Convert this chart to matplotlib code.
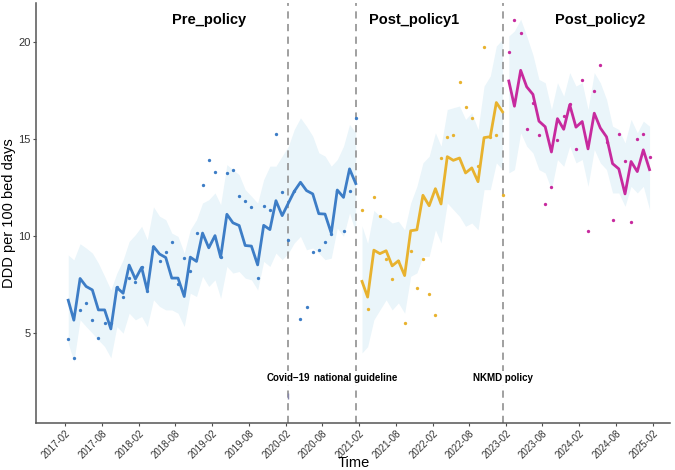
import pandas as pd
import matplotlib
matplotlib.use('Agg')
import matplotlib.pyplot as plt

plt.rcParams['font.family'] = ['Liberation Sans', 'DejaVu Sans']

# monthly values
blue_fit = [6.67, 5.64, 7.79, 7.38, 7.2, 6.17, 6.17, 5.19, 7.32, 7.03, 8.48, 7.76,
            8.36, 7.17, 9.44, 9.05, 8.87, 7.81, 7.81, 6.86, 8.89, 8.67, 10.13, 9.37,
            10.0, 8.88, 11.1, 10.66, 10.52, 9.49, 9.46, 8.49, 10.53, 10.31, 11.8, 11.03,
            11.68, 12.28, 12.75, 12.32, 12.15, 11.13, 11.11, 10.13, 12.35, 11.97, 13.44, 12.68]
blue_obs = [4.67, 3.71, 6.19, 6.53, 5.64, 4.71, 5.49, 5.5, 7.33, 6.83, 7.79, 7.59,
            8.4, 7.17, 9.4, 8.7, 9.13, 9.68, 7.52, 8.82, 8.2, 10.13, 12.61, 13.9,
            13.28, 8.9, 13.23, 13.4, 12.06, 11.8, 11.46, 7.84, 11.51, 11.3, 15.23, 12.26,
            9.77, 12.3, 5.72, 6.32, 9.15, 9.24, 9.65, 10.1, 12.3, 10.25, 12.32, 16.05]
blue_hi = [9.0, 8.75, 9.58, 9.36, 9.1, 8.58, 7.9, 7.2, 8.07, 8.75, 9.7, 10.05,
           10.48, 9.79, 11.48, 11.0, 10.82, 10.13, 9.96, 9.1, 10.3, 10.82, 11.68, 11.85,
           12.2, 11.6, 13.66, 13.4, 13.14, 12.37, 12.03, 11.68, 12.89, 13.58, 13.58, 14.1,
           14.61, 15.47, 16.07, 15.64, 15.13, 14.27, 14.1, 13.58, 13.92, 14.61, 15.73, 15.3]
blue_lo = [4.45, 3.5, 5.66, 5.31, 4.97, 4.62, 4.28, 3.7, 5.31, 4.97, 6.0, 5.66,
           5.83, 5.31, 6.69, 6.35, 6.17, 6.17, 6.0, 5.31, 7.03, 6.86, 7.9, 7.38,
           7.72, 6.77, 8.41, 8.07, 8.15, 7.81, 7.72, 7.2, 8.67, 8.41, 9.1, 8.76,
           9.1, 9.62, 9.96, 9.27, 9.36, 9.1, 8.76, 8.84, 10.39, 9.96, 11.17, 10.13]

yellow_fit = [7.64, 6.83, 9.25, 9.07, 9.22, 8.44, 8.7, 7.94, 10.25, 10.3, 12.08, 11.54,
              12.42, 11.63, 14.07, 13.88, 14.0, 13.23, 13.49, 12.78, 15.05, 15.1, 16.86, 16.38]
yellow_obs = [11.3, 6.24, 11.97, 11.03, 8.79, 7.77, 8.7, 5.49, 9.22, 7.3, 8.77, 6.98,
              5.92, 14.0, 15.06, 15.17, 17.93, 16.62, 16.06, 13.58, 19.74, 15.1, 15.2, 12.11]
yellow_hi = [10.5, 9.6, 11.3, 11.0, 10.9, 10.65, 10.74, 10.3, 11.68, 12.54, 13.75, 14.09,
             15.3, 14.61, 16.5, 16.59, 16.68, 15.99, 16.33, 15.47, 17.71, 18.23, 19.77, 20.12]
yellow_lo = [3.95, 4.28, 5.66, 6.17, 6.69, 6.17, 6.53, 6.0, 7.9, 8.08, 8.93, 8.93,
             10.3, 9.62, 11.68, 11.34, 10.99, 10.48, 10.65, 10.3, 12.37, 12.37, 13.75, 13.4]

pink_fit = [17.97, 16.67, 18.52, 17.67, 17.28, 15.9, 15.61, 14.31, 16.03, 15.48, 16.74, 15.59,
            15.88, 14.47, 16.31, 15.55, 15.09, 13.71, 13.44, 12.15, 13.82, 13.3, 14.42, 13.4]
pink_obs = [19.48, 21.12, 20.44, 15.5, 16.83, 15.18, 11.63, 12.49, 14.95, 16.14, 16.8, 14.49,
            18.02, 10.23, 17.47, 18.81, 14.83, 10.82, 15.26, 13.83, 10.7, 14.96, 15.22, 14.06]
pink_hi = [20.29, 20.55, 21.15, 20.29, 19.32, 18.05, 17.88, 16.5, 17.88, 17.19, 18.4, 17.71,
           17.88, 16.5, 18.4, 17.88, 17.02, 15.64, 15.47, 14.78, 15.99, 15.3, 15.9, 15.64]
pink_lo = [13.23, 13.4, 15.3, 14.61, 14.26, 13.4, 13.23, 12.37, 13.92, 13.57, 14.61, 13.75,
           13.92, 12.54, 14.44, 13.75, 13.4, 12.2, 12.2, 11.51, 12.54, 12.2, 12.54, 11.34]

periods = ['Pre_policy', 'Post_policy1', 'Post_policy2']
starts = ['2017-01-15', '2021-01-15', '2023-01-15']
events = ['Covid\u221219', 'national guideline', 'NKMD policy']
event_dates = ['2020-02-15', '2021-01-15', '2023-01-15']

colors = ['#3D7DC6', '#E8B22E', '#C72A9E']
band_col = '#EAF5FA'

series = [(blue_fit, blue_obs, blue_hi, blue_lo),
          (yellow_fit, yellow_obs, yellow_hi, yellow_lo),
          (pink_fit, pink_obs, pink_hi, pink_lo)]

fig = plt.figure(figsize=(6.75, 4.7), dpi=100)
ax = fig.add_axes([0.054, 0.1, 0.939, 0.894])

for (fit, obs, hi, lo), start, col in zip(series, starts, colors):
    dates = pd.date_range(start, periods=len(fit), freq='MS') + pd.Timedelta(days=14)
    ax.fill_between(dates, lo, hi, color=band_col, lw=0, zorder=1)
    ax.plot(dates, fit, color=col, lw=2.0, zorder=3)
    ax.plot(dates, obs, 'o', color=col, ms=2.4, mec='none', zorder=4)

for lab, d in zip(events, event_dates):
    d = pd.Timestamp(d)
    ax.axvline(d, color='#999999', ls=(0, (4, 3)), lw=1.3, zorder=2)
    ax.text(d, 2.65, lab, ha='center', va='center', fontsize=7, fontweight='bold',
            bbox=dict(facecolor='white', edgecolor='none', pad=1.5), zorder=5)

# small mark under the Covid label
ax.plot(pd.Timestamp(event_dates[0]), 1.75, marker='|', color='#8888aa', ms=4, zorder=5)

title_x = ['2019-01-15', '2021-11-01', '2024-05-15']
for lab, d in zip(periods, title_x):
    ax.text(pd.Timestamp(d), 21.1, lab, ha='center', va='center', fontsize=10.5,
            fontweight='bold')

ax.set_xlim(pd.Timestamp('2016-09-10'), pd.Timestamp('2025-04-28'))
ax.set_ylim(0.34, 22.0)
ax.set_yticks([5, 10, 15, 20])
ticks = pd.date_range('2017-02-01', '2025-02-01', freq='6MS')
ax.set_xticks(ticks)
ax.set_xticklabels([t.strftime('%Y-%m') for t in ticks], rotation=45, ha='right',
                   rotation_mode='anchor', fontsize=7)
ax.tick_params(axis='y', labelsize=8, colors='#4d4d4d', length=2.5, pad=1.5)
ax.tick_params(axis='x', colors='#4d4d4d', length=2.5, pad=1.5)
for lbl in ax.get_xticklabels() + ax.get_yticklabels():
    lbl.set_color('#333333')

for s in ['top', 'right']:
    ax.spines[s].set_visible(False)
for s in ['left', 'bottom']:
    ax.spines[s].set_color('#555555')
    ax.spines[s].set_linewidth(1.1)

ax.set_xlabel('Time', fontsize=10.5, va='center')
ax.xaxis.set_label_coords(0.5, -0.095)
ax.set_ylabel('DDD per 100 bed days', fontsize=10.5, labelpad=2)

plt.savefig('out.png', dpi=100)
plt.close('all')
